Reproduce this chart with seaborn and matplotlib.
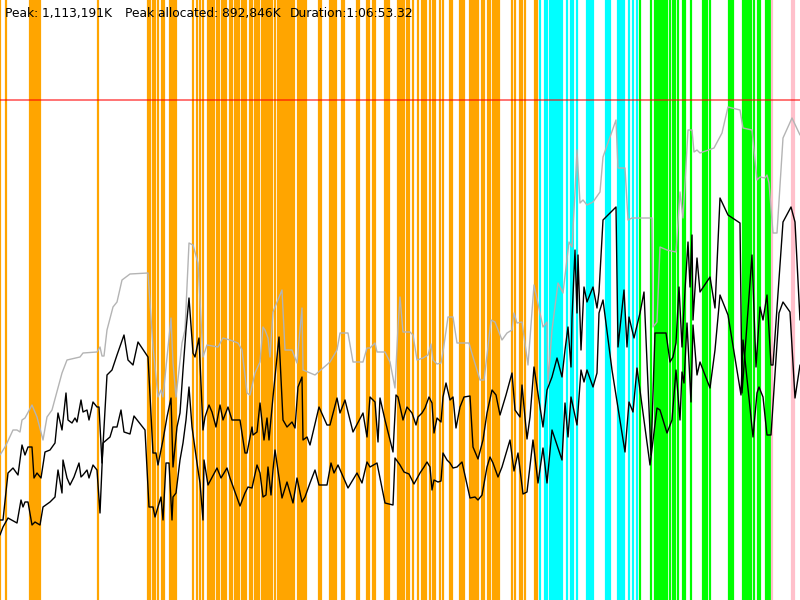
import seaborn as sns
import matplotlib
matplotlib.use("Agg")
import matplotlib.pyplot as plt
import numpy as np
import pandas as pd

# header values
peak_k = "1,113,191K"
peak_alloc_k = "892,846K"
duration = "1:06:53.32"

# memory series, time in 1/800 of the run, value in % of peak memory
total_t = [0, 5, 7, 13, 17, 20, 22, 25, 32, 37, 43, 47, 52, 62, 67, 80, 83, 97, 100, 102, 104, 107, 113, 117,
           122, 130, 148, 153, 158, 161, 163, 171, 173, 176, 182, 185, 189, 193, 198, 203, 207, 218, 223, 230,
           238, 242, 247, 250, 255, 260, 263, 265, 268, 270, 273, 282, 285, 292, 297, 302, 303, 315, 323, 330,
           337, 340, 348, 353, 363, 367, 370, 375, 377, 385, 390, 395, 398, 400, 403, 410, 413, 417, 423, 428,
           431, 433, 437, 441, 443, 448, 453, 457, 469, 473, 480, 484, 488, 491, 495, 502, 507, 512, 514, 517,
           522, 528, 534, 540, 543, 547, 548, 552, 558, 563, 569, 572, 575, 577, 580, 583, 587, 593, 600, 603,
           616, 618, 625, 628, 632, 652, 653, 657, 660, 667, 676, 680, 683, 688, 692, 694, 697, 700, 714, 722,
           728, 740, 743, 752, 757, 760, 765, 767, 769, 773, 777, 783, 792, 800]
total_v = [29.0, 30.6, 31.4, 34.0, 34.0, 33.6, 36.0, 36.4, 39.0, 36.6, 32.0, 36.6, 38.0, 45.4, 48.0, 48.6, 49.4,
           49.6, 50.6, 48.8, 48.8, 54.0, 58.6, 59.6, 64.0, 65.2, 65.4, 50.6, 40.6, 42.0, 40.6, 56.4, 47.4, 40.6,
           51.4, 54.0, 71.4, 71.0, 67.4, 48.6, 51.0, 50.6, 52.4, 52.0, 51.4, 50.0, 41.4, 41.0, 45.4, 47.6, 54.6,
           54.0, 52.4, 48.6, 57.6, 62.0, 50.0, 50.0, 47.4, 58.4, 46.0, 45.0, 46.4, 47.6, 50.0, 53.4, 53.4, 47.6,
           47.6, 50.4, 50.4, 51.4, 49.6, 49.6, 47.6, 42.4, 54.6, 60.6, 53.6, 53.6, 53.0, 48.0, 48.4, 49.0, 51.2,
           48.0, 47.2, 47.4, 49.6, 56.6, 56.6, 51.4, 51.4, 48.6, 44.0, 44.0, 50.6, 56.0, 55.6, 52.0, 53.4, 54.0,
           57.4, 55.4, 55.6, 47.0, 63.0, 57.4, 54.6, 55.6, 43.4, 54.0, 63.4, 61.4, 71.6, 70.6, 81.6, 90.0, 79.4,
           80.0, 79.0, 79.6, 81.6, 88.6, 96.0, 86.4, 86.4, 76.0, 76.4, 76.4, 54.6, 55.6, 70.6, 70.0, 69.6, 81.6,
           76.4, 94.0, 94.0, 89.6, 90.0, 89.4, 90.4, 93.4, 98.6, 98.0, 94.4, 94.0, 84.0, 84.6, 84.4, 85.0, 83.4,
           73.4, 73.4, 92.4, 96.4, 93.0]

alloc_t = [0, 3, 8, 13, 18, 22, 25, 28, 32, 34, 37, 41, 45, 50, 55, 58, 62, 66, 68, 72, 75, 77, 81, 83, 87, 89,
           93, 97, 99, 102, 107, 112, 117, 124, 128, 133, 138, 148, 153, 156, 158, 163, 167, 171, 173, 177, 180,
           183, 186, 189, 193, 195, 199, 203, 205, 209, 212, 216, 220, 223, 228, 232, 240, 245, 247, 252, 253,
           257, 260, 264, 267, 269, 273, 279, 283, 287, 292, 295, 298, 302, 303, 307, 310, 319, 327, 330, 337,
           340, 345, 353, 363, 367, 370, 375, 378, 380, 385, 393, 396, 398, 403, 407, 412, 416, 418, 422, 425,
           429, 432, 434, 437, 441, 443, 446, 450, 453, 456, 460, 464, 470, 473, 478, 483, 487, 492, 496, 500,
           506, 512, 515, 520, 522, 527, 530, 534, 543, 547, 552, 557, 562, 565, 568, 571, 572, 575, 577, 578,
           581, 584, 587, 593, 597, 599, 603, 616, 618, 624, 627, 629, 634, 640, 644, 651, 655, 666, 670, 673,
           676, 679, 682, 685, 688, 690, 692, 693, 697, 700, 710, 715, 720, 728, 740, 742, 752, 756, 760, 763,
           767, 771, 773, 783, 791, 795, 800]
alloc_v = [16.0, 16.0, 25.4, 26.4, 25.0, 31.0, 29.0, 30.6, 30.6, 24.4, 25.4, 24.4, 29.6, 30.0, 31.4, 37.4, 34.0,
           41.4, 36.0, 35.4, 36.4, 35.6, 40.0, 37.6, 38.0, 36.0, 39.6, 38.6, 38.6, 27.4, 45.0, 46.0, 49.0, 53.0,
           48.0, 47.0, 51.6, 48.6, 29.4, 29.4, 27.0, 32.0, 36.6, 40.4, 26.6, 34.6, 37.4, 46.0, 54.0, 60.4, 49.4,
           48.6, 52.4, 34.0, 36.6, 39.0, 37.6, 34.6, 39.0, 36.0, 38.6, 36.0, 36.0, 29.4, 29.4, 34.6, 33.0, 33.6,
           39.4, 32.0, 36.4, 32.0, 40.6, 52.6, 36.0, 34.6, 35.6, 34.4, 42.6, 44.6, 32.0, 32.6, 31.0, 38.6, 35.0,
           35.0, 40.4, 37.4, 40.0, 33.6, 37.4, 32.6, 40.6, 39.6, 31.6, 40.4, 36.0, 29.6, 41.0, 40.6, 36.0, 38.6,
           37.4, 35.0, 36.6, 37.4, 38.4, 40.6, 39.4, 33.4, 36.4, 35.6, 40.6, 43.4, 40.0, 40.6, 34.4, 38.6, 40.6,
           40.8, 30.6, 28.2, 32.0, 37.4, 42.0, 41.0, 37.0, 41.0, 45.4, 38.0, 36.6, 43.0, 32.2, 36.6, 46.6, 34.6,
           42.0, 44.6, 48.4, 44.6, 50.0, 54.6, 46.6, 56.4, 70.0, 57.4, 69.0, 50.0, 62.6, 59.6, 62.6, 58.4, 61.6,
           76.0, 78.6, 50.6, 62.0, 50.6, 56.6, 52.4, 57.4, 61.6, 29.0, 53.4, 53.4, 47.6, 48.6, 51.4, 62.6, 50.6,
           62.0, 71.6, 62.6, 73.0, 56.0, 68.4, 61.6, 64.6, 58.4, 80.4, 77.0, 75.4, 41.4, 69.0, 46.6, 58.6, 56.0,
           61.0, 47.0, 47.0, 75.6, 78.6, 75.6, 56.0]

used_t = [0, 3, 8, 17, 21, 23, 25, 28, 32, 35, 40, 43, 50, 55, 58, 62, 63, 67, 70, 74, 79, 81, 83, 87, 89, 93,
          97, 100, 103, 110, 113, 117, 121, 124, 130, 134, 145, 149, 153, 155, 158, 161, 163, 166, 169, 172, 173,
          176, 180, 183, 186, 189, 192, 197, 200, 203, 204, 208, 217, 221, 227, 230, 240, 245, 248, 252, 257,
          260, 263, 266, 268, 271, 273, 275, 282, 287, 293, 297, 302, 305, 310, 315, 319, 327, 331, 334, 338,
          348, 357, 362, 367, 370, 377, 385, 393, 395, 400, 404, 409, 414, 420, 424, 427, 430, 432, 434, 438,
          441, 443, 447, 450, 453, 457, 462, 470, 475, 478, 482, 487, 490, 493, 498, 502, 510, 514, 518, 523,
          527, 533, 538, 543, 547, 552, 562, 565, 568, 571, 577, 581, 584, 587, 593, 597, 599, 603, 612, 625,
          629, 633, 637, 650, 657, 660, 667, 672, 676, 680, 682, 684, 687, 691, 693, 697, 700, 710, 715, 720,
          728, 741, 743, 753, 757, 759, 763, 767, 771, 779, 783, 790, 795, 800]
used_v = [13.0, 14.6, 16.4, 15.4, 20.0, 18.6, 19.6, 19.6, 15.0, 15.6, 15.0, 18.6, 19.6, 20.6, 26.0, 21.4, 28.0,
          24.4, 23.0, 24.6, 27.4, 24.6, 25.0, 26.0, 24.4, 27.0, 26.0, 17.4, 31.4, 32.6, 34.6, 34.6, 38.0, 33.6,
          33.2, 36.8, 34.0, 18.6, 18.6, 16.6, 18.6, 20.6, 16.0, 27.4, 27.4, 16.0, 20.6, 21.4, 28.0, 31.4, 36.0,
          42.6, 34.6, 27.4, 23.4, 16.0, 28.0, 23.0, 26.4, 24.4, 26.4, 24.4, 18.8, 21.4, 22.6, 22.4, 27.0, 25.4,
          20.6, 21.0, 26.6, 21.0, 26.0, 30.0, 20.4, 23.6, 19.4, 24.4, 19.6, 20.6, 23.4, 26.0, 23.0, 23.0, 27.4,
          25.4, 27.0, 22.4, 25.4, 23.4, 27.6, 26.6, 27.4, 19.4, 19.0, 28.4, 27.0, 25.6, 25.2, 23.2, 25.4, 26.6,
          27.6, 26.6, 22.0, 24.0, 23.6, 23.8, 29.4, 28.0, 27.4, 26.4, 26.6, 27.6, 20.4, 20.6, 20.0, 21.0, 26.6,
          28.6, 27.4, 24.6, 26.6, 32.0, 25.8, 29.4, 21.2, 21.6, 32.0, 23.4, 30.4, 23.4, 34.0, 28.0, 39.4, 32.6,
          40.6, 35.0, 46.0, 43.6, 46.0, 42.6, 45.4, 57.4, 60.0, 46.0, 29.6, 39.6, 37.6, 46.4, 27.0, 38.4, 38.0,
          33.4, 36.0, 46.0, 36.0, 45.6, 43.4, 55.4, 39.6, 55.0, 45.0, 47.6, 42.4, 50.0, 61.0, 57.0, 41.0, 52.0,
          32.6, 41.4, 42.6, 40.6, 33.0, 33.0, 57.4, 59.6, 57.6, 40.4, 47.0]

# event markers (same time scale)
orange_events = [0, 6, 30, 32, 34, 36, 38, 40, 98, 148, 150, 153, 155, 158, 162, 164, 170, 172, 174, 176, 193,
                 197, 200, 203, 208, 210, 212, 214, 217, 219, 222, 224, 226, 230, 232, 235, 237, 239, 242, 244,
                 246, 250, 252, 255, 257, 259, 262, 264, 266, 268, 270, 272, 275, 278, 280, 282, 284, 286, 288,
                 290, 292, 294, 298, 300, 302, 304, 306, 319, 321, 330, 332, 334, 336, 342, 344, 357, 359, 367,
                 369, 373, 375, 385, 387, 389, 398, 400, 402, 404, 407, 409, 413, 418, 422, 424, 426, 430, 433,
                 435, 440, 443, 450, 452, 460, 462, 464, 470, 472, 474, 476, 478, 482, 484, 488, 490, 493, 495,
                 497, 499, 512, 515, 520, 522, 525, 535, 537]
cyan_events = [540, 545, 547, 550, 552, 554, 556, 558, 560, 562, 567, 571, 573, 577, 587, 589, 591, 593, 606,
               608, 610, 618, 620, 622, 624, 629, 633, 637]
green_events = [640, 651, 655, 657, 659, 661, 663, 665, 667, 670, 673, 675, 678, 683, 685, 691, 703, 705, 707,
                710, 729, 731, 733, 743, 745, 747, 749, 751, 754, 758, 760, 766, 768, 770]
pink_events = [772, 792, 794]

sns.set_style("white")
plt.rcParams['font.family'] = ['DejaVu Sans']

fig = plt.figure(figsize=(8, 6), dpi=100)
ax = fig.add_axes([0, 0, 1, 1])

for events, col in [(orange_events, '#ffa500'), (cyan_events, '#00ffff'),
                    (green_events, '#00ff00'), (pink_events, '#ffc0cb')]:
    for e in events:
        ax.axvline(e, color=col, linewidth=1.6, zorder=1)

ax.axhline(100, color='red', alpha=0.55, linewidth=1.4, zorder=2)

sns.lineplot(x=total_t, y=total_v, color='#b4b4b4', linewidth=1, ax=ax, estimator=None, sort=False, zorder=3)
sns.lineplot(x=alloc_t, y=alloc_v, color='black', linewidth=1, ax=ax, estimator=None, sort=False, zorder=4)
sns.lineplot(x=used_t, y=used_v, color='black', linewidth=1, ax=ax, estimator=None, sort=False, zorder=4)

ax.set_xlim(0, 800)
ax.set_ylim(0, 120)
ax.axis('off')

fig.text(5 / 800, 1 - 17 / 600, f"Peak: {peak_k}", fontsize=8.8, color='black', va='baseline')
fig.text(125 / 800, 1 - 17 / 600, f"Peak allocated: {peak_alloc_k}", fontsize=8.8, color='black', va='baseline')
fig.text(290 / 800, 1 - 17 / 600, f"Duration:{duration}", fontsize=8.8, color='black', va='baseline')

fig.savefig("out.png", dpi=100)
